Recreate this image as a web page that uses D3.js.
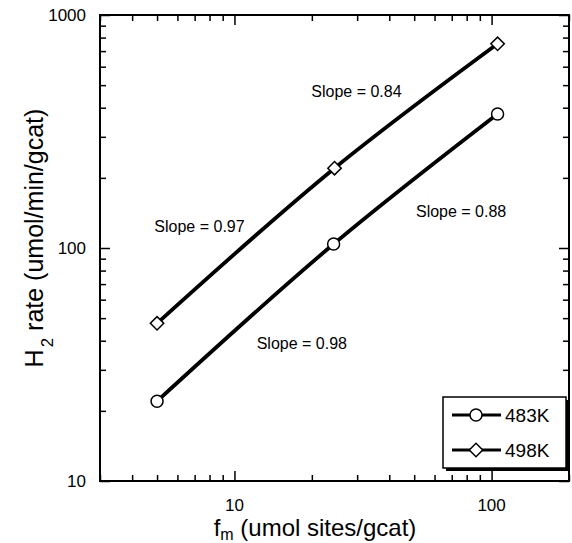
<!DOCTYPE html>
<html>
<head>
<meta charset="utf-8">
<script src="https://cdn.jsdelivr.net/npm/d3@7"></script>
<style>
  body { margin: 0; background: #fff; }
  text { font-family: "Liberation Sans", Arial, sans-serif; fill: #000; }
</style>
</head>
<body>
<svg id="chart" width="572" height="543"></svg>
<script>
// data
const seriesNames = ["483K", "498K"];
const fm483 = [5, 24.3, 105.5];
const rate483 = [22, 104, 376];
const fm498 = [5, 24.5, 105.5];
const rate498 = [47.5, 220, 752];
const xMajorTicks = [10, 100];
const yMajorTicks = [10, 100, 1000];
const slopeLabels = [
  { text: "Slope = 0.84", fm: 19.9, rate: 445 },
  { text: "Slope = 0.88", fm: 50.8, rate: 136 },
  { text: "Slope = 0.97", fm: 4.88, rate: 117 },
  { text: "Slope = 0.98", fm: 12.2, rate: 36.9 }
];

const svg = d3.select("#chart");
const margin = { top: 15, right: 3, bottom: 62, left: 100 };
const width = 572, height = 543;

// scales in page coordinates
const x = d3.scaleLog().domain([3, 200]).range([margin.left, width - margin.right]);
const y = d3.scaleLog().domain([10, 1000]).range([height - margin.bottom, margin.top]);
const plotLeft = margin.left, plotRight = width - margin.right;
const plotTop = margin.top, plotBottom = height - margin.bottom;

// minor / major tick values
const xMinor = x.ticks().filter(d => d >= 3 && d <= 200 && !xMajorTicks.includes(d));
const yMinor = y.ticks().filter(d => !yMajorTicks.includes(d));

function axisGroup(axis, transform) {
  const g = svg.append("g").attr("transform", transform).call(axis);
  g.select(".domain").remove();
  g.selectAll("line").attr("stroke", "#000").attr("stroke-width", 1.5);
  g.selectAll("text").remove();
  return g;
}

// ticks point inward on all four sides
axisGroup(d3.axisBottom(x).tickValues(xMinor).tickSize(-6), `translate(0,${plotBottom})`);
axisGroup(d3.axisBottom(x).tickValues(xMajorTicks).tickSize(-10), `translate(0,${plotBottom})`);
axisGroup(d3.axisTop(x).tickValues(xMinor).tickSize(-6), `translate(0,${plotTop})`);
axisGroup(d3.axisTop(x).tickValues(xMajorTicks).tickSize(-10), `translate(0,${plotTop})`);
axisGroup(d3.axisLeft(y).tickValues(yMinor).tickSize(-6), `translate(${plotLeft},0)`);
axisGroup(d3.axisLeft(y).tickValues(yMajorTicks).tickSize(-10), `translate(${plotLeft},0)`);
axisGroup(d3.axisRight(y).tickValues(yMinor).tickSize(-6), `translate(${plotRight},0)`);
axisGroup(d3.axisRight(y).tickValues(yMajorTicks).tickSize(-10), `translate(${plotRight},0)`);

// frame
svg.append("rect")
  .attr("x", plotLeft).attr("y", plotTop)
  .attr("width", plotRight - plotLeft).attr("height", plotBottom - plotTop)
  .attr("fill", "none").attr("stroke", "#000").attr("stroke-width", 2);

// tick labels
xMajorTicks.forEach(v => {
  svg.append("text")
    .attr("x", x(v)).attr("y", plotBottom + 30)
    .attr("text-anchor", "middle").attr("font-size", 17)
    .text(String(v));
});
yMajorTicks.forEach(v => {
  svg.append("text")
    .attr("x", plotLeft - 14).attr("y", y(v) + 6)
    .attr("text-anchor", "end").attr("font-size", 17)
    .text(String(v));
});

// axis titles
const xt = svg.append("text")
  .attr("x", 315).attr("y", 536)
  .attr("text-anchor", "middle").attr("font-size", 24);
xt.append("tspan").text("f");
xt.append("tspan").attr("font-size", 16).attr("dy", 4).text("m");
xt.append("tspan").attr("dy", -4).text(" (umol sites/gcat)");

const yt = svg.append("text")
  .attr("transform", "translate(43,238) rotate(-90)")
  .attr("text-anchor", "middle").attr("font-size", 25);
yt.append("tspan").text("H");
yt.append("tspan").attr("font-size", 17).attr("dy", 10).attr("dx", 2).text("2");
yt.append("tspan").attr("dy", -10).text(" rate (umol/min/gcat)");

// series
const series = [
  { name: seriesNames[0], pts: fm483.map((d, i) => [d, rate483[i]]), sym: "circle" },
  { name: seriesNames[1], pts: fm498.map((d, i) => [d, rate498[i]]), sym: "diamond" }
];

const line = d3.line().x(d => x(d[0])).y(d => y(d[1])).curve(d3.curveMonotoneX);

function drawMarker(g, sym, cx, cy) {
  if (sym === "circle") {
    g.append("circle").attr("cx", cx).attr("cy", cy).attr("r", 6)
      .attr("fill", "#fff").attr("stroke", "#000").attr("stroke-width", 1.5);
  } else {
    g.append("path")
      .attr("d", d3.symbol().type(d3.symbolSquare).size(90)())
      .attr("transform", `translate(${cx},${cy}) rotate(45)`)
      .attr("fill", "#fff").attr("stroke", "#000").attr("stroke-width", 1.5);
  }
}

series.forEach(s => {
  svg.append("path").datum(s.pts)
    .attr("d", line)
    .attr("fill", "none").attr("stroke", "#000").attr("stroke-width", 3.8);
  s.pts.forEach(p => drawMarker(svg, s.sym, x(p[0]), y(p[1])));
});

// slope annotations
slopeLabels.forEach(d => {
  svg.append("text")
    .attr("x", x(d.fm)).attr("y", y(d.rate))
    .attr("font-size", 16)
    .text(d.text);
});

// legend
const lg = svg.append("g").attr("transform", "translate(443,397)");
lg.append("rect").attr("x", 3).attr("y", 3).attr("width", 123).attr("height", 71).attr("fill", "#000");
lg.append("rect").attr("width", 123).attr("height", 71)
  .attr("fill", "#fff").attr("stroke", "#000").attr("stroke-width", 1.5);
series.forEach((s, i) => {
  const ly = 18 + i * 35;
  lg.append("line").attr("x1", 9).attr("x2", 58).attr("y1", ly).attr("y2", ly)
    .attr("stroke", "#000").attr("stroke-width", 3);
  drawMarker(lg, s.sym, 33, ly);
  lg.append("text").attr("x", 62).attr("y", ly + 7).attr("font-size", 19).text(s.name);
});
</script>
</body>
</html>
